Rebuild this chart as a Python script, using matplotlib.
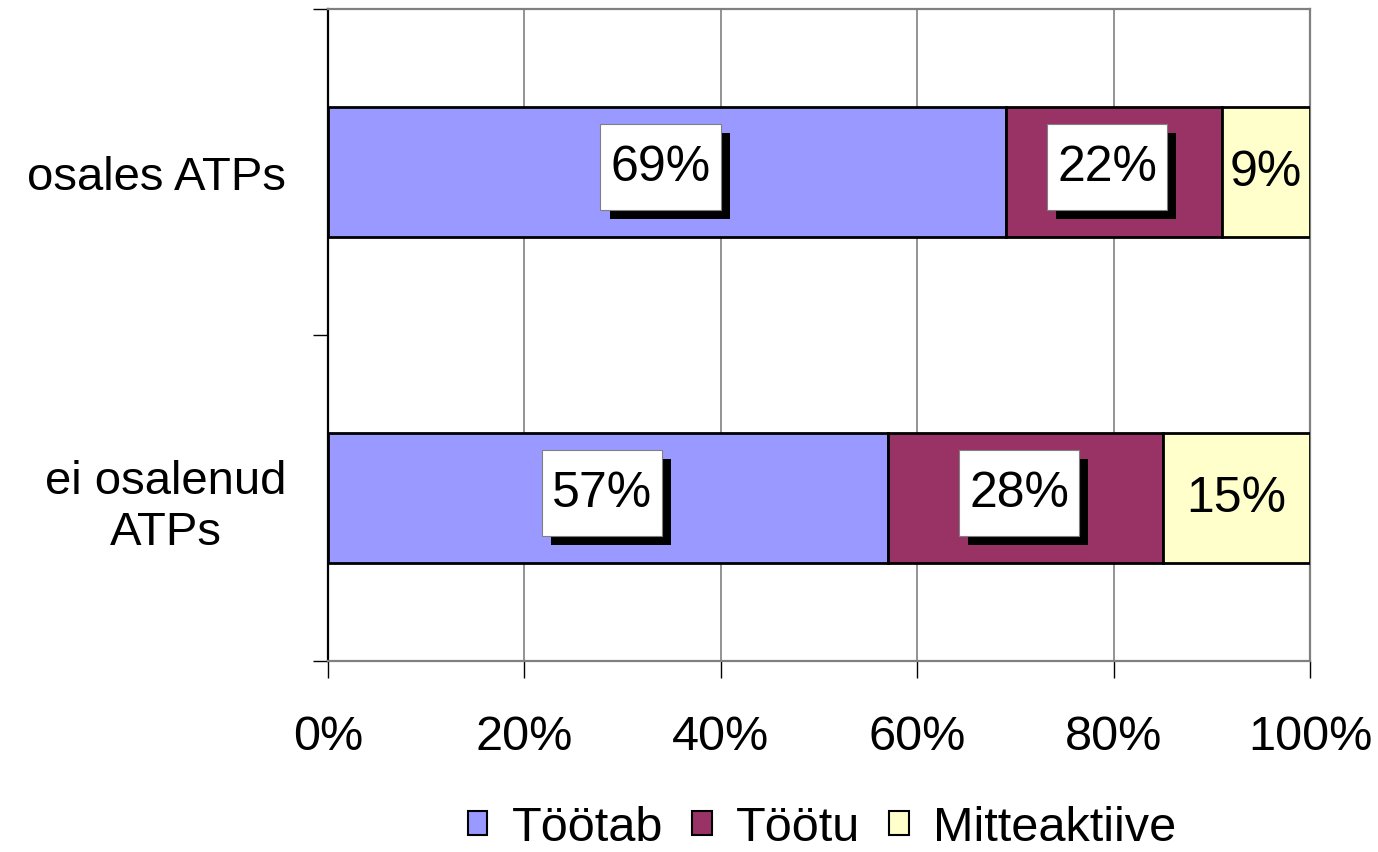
import numpy as np
import matplotlib
matplotlib.use('Agg')
from matplotlib import pyplot as plt
from matplotlib import transforms as mtransforms
from matplotlib import patheffects
from matplotlib.patches import Patch
from matplotlib.path import Path

plt.rcParams['font.family'] = ['Liberation Sans', 'DejaVu Sans']

# data
categories = ['ei osalenud\nATPs', 'osales ATPs']
seriesNames = ['Töötab', 'Töötu', 'Mitteaktiive']
tootab = [57, 69]
tootu = [28, 22]
mitteaktiive = [15, 9]
xTicks = [0, 20, 40, 60, 80, 100]
xTickLabels = ['0%', '20%', '40%', '60%', '80%', '100%']

colorList = ['#9999FF', '#993366', '#FFFFCC']
boxed = [True, True, False]   # Excel dropped the box on the narrow segment
labelSize = 36


def excelBox(x0, y0, width, height, mutation_size):
  """
  Rectangle with separate horizontal / vertical padding (Excel label box)
  """
  padX = 0.2 * mutation_size
  padY = 0.4 * mutation_size
  x0, y0 = x0 - padX, y0 - padY
  x1, y1 = x0 + width + 2 * padX, y0 + height + 2 * padY
  return Path([(x0, y0), (x1, y0), (x1, y1), (x0, y1), (x0, y0)],
              closed=True)


boxShadow = [patheffects.SimplePatchShadow(offset=(6.5, -6.5),
                                           shadow_rgbFace='black', alpha=1.0),
             patheffects.Normal()]

fig = plt.figure(figsize=(13.78, 8.53), dpi=100)
ax = fig.add_axes([328 / 1378., 1 - 662 / 853., 982 / 1378., 652 / 853.])

yPos = np.arange(len(categories))
series = [tootab, tootu, mitteaktiive]
left = np.zeros(len(categories))
for k, vals in enumerate(series):
  vals = np.array(vals, dtype=float)
  ax.barh(yPos, vals, left=left, height=0.4, color=colorList[k],
          edgecolor='black', linewidth=2, zorder=3, label=seriesNames[k])
  for i, v in enumerate(vals):
    cx = left[i] + v / 2.
    txt = '{:d}%'.format(int(v))
    if boxed[k]:
      # box + shadow centred together on the segment
      bxTrans = mtransforms.offset_copy(ax.transData, fig=fig, x=-4.5, y=3.5,
                                        units='points')
      ax.text(cx, yPos[i], txt, transform=bxTrans, ha='center', va='center',
              fontsize=labelSize, color='black', zorder=5,
              bbox=dict(boxstyle=excelBox, fc='white', ec='#808080', lw=0.8,
                        path_effects=boxShadow))
    else:
      ax.text(cx, yPos[i], txt, ha='center', va='center', fontsize=labelSize,
              color='black', zorder=5)
  left += vals

ax.set_xlim(0, 100)
ax.set_ylim(-0.5, 1.5)

ax.set_xticks(xTicks)
ax.set_xticklabels(xTickLabels, fontsize=35)
ax.tick_params(axis='x', direction='out', length=12, width=1, color='black',
               pad=26)
for x in xTicks[1:]:
  ax.axvline(x, color='#808080', lw=1.2, zorder=1)

ax.set_yticks(yPos)
ax.set_yticklabels(categories, fontsize=34)
for lbl in ax.get_yticklabels():
  lbl.set_multialignment('center')
ax.set_yticks([-0.5, 0.5, 1.5], minor=True)
ax.tick_params(axis='y', which='major', length=0, pad=30)
ax.tick_params(axis='y', which='minor', direction='out', length=11, width=1,
               color='black')

ax.spines['left'].set_color('black')
ax.spines['left'].set_linewidth(1.6)
for s in ['top', 'right', 'bottom']:
  ax.spines[s].set_color('#808080')
  ax.spines[s].set_linewidth(1.6)

handles = [Patch(facecolor=colorList[k], edgecolor='black', linewidth=1.5)
           for k in range(len(seriesNames))]
fig.legend(handles, seriesNames, loc='center',
           bbox_to_anchor=(822 / 1378., 1 - 829 / 853.), ncol=3, fontsize=35,
           frameon=False, handlelength=0.4, handleheight=0.4,
           handletextpad=0.5, columnspacing=0.6, borderpad=0, borderaxespad=0)

plt.savefig('out.png', dpi=100)
